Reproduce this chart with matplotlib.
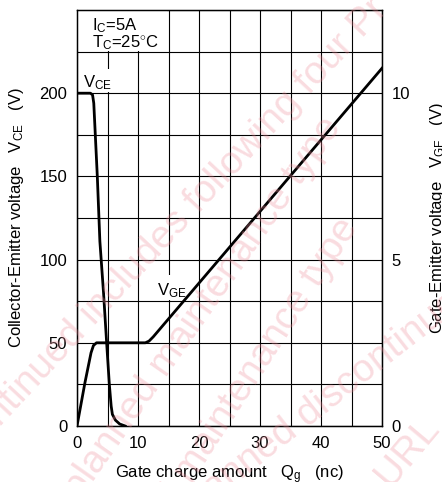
import matplotlib
matplotlib.use("Agg")
import matplotlib.pyplot as plt
from matplotlib.patches import Rectangle
import numpy as np

plt.rcParams['font.family'] = ['Liberation Sans', 'DejaVu Sans']
plt.rcParams['mathtext.fontset'] = 'custom'
plt.rcParams['mathtext.rm'] = 'Liberation Sans'
plt.rcParams['mathtext.it'] = 'Liberation Sans'

# ---- data ----
qg_vce = [0, 2.2, 2.55, 2.75, 3.33, 3.75, 4.35, 4.86, 5.3, 5.6, 5.8, 6.3, 7.0, 7.9]
vce = [200, 200, 199, 194, 150, 111, 80, 50, 25, 12, 7, 3.5, 1.2, 0]
qg_vge = [0, 1.3, 2.3, 2.7, 3.2, 11.2, 11.8, 12.5, 50]
vge = [0, 1.3, 2.2, 2.42, 2.5, 2.5, 2.55, 2.68, 10.75]
x_ticks = [0, 10, 20, 30, 40, 50]
y_ticks = [0, 50, 100, 150, 200]
y2_ticks = [0, 5, 10]

FS = 12
W, H = 442, 482
fig = plt.figure(figsize=(W / 100, H / 100), dpi=100)
ax = fig.add_axes([77 / W, (H - 426) / H, 305 / W, 416 / H])
ax.set_xlim(0, 50)
ax.set_ylim(0, 250)
ax.set_xticks(x_ticks)
ax.set_yticks(y_ticks)
ax.set_xticks(np.arange(0, 51, 5), minor=True)
ax.set_yticks(np.arange(0, 251, 25), minor=True)
ax.grid(True, which='both', color='black', lw=0.8)
ax.set_axisbelow(True)
ax.tick_params(which='both', length=0, labelsize=FS, pad=7, colors='black')
for s in ax.spines.values():
    s.set_linewidth(1.0)

ax.plot(qg_vce, vce, color='black', lw=2.0, solid_joinstyle='round', zorder=4)

ax2 = ax.twinx()
ax2.set_ylim(0, 12.5)
ax2.set_yticks(y2_ticks)
ax2.tick_params(length=0, labelsize=FS, pad=7)
ax2.plot(qg_vge, vge, color='black', lw=2.0, solid_joinstyle='round', zorder=4)

ax.set_xlabel(r'Gate charge amount   Q$_{\rm g}$   (nc)', fontsize=FS, labelpad=9)
ax.set_ylabel(r'Collector-Emitter voltage   V$_{\rm CE}$   (V)', fontsize=FS, labelpad=10)
ax2.set_ylabel(r'Gate-Emitter voltage   V$_{\rm GE}$   (V)', fontsize=FS, labelpad=13)

# white cells hiding grid behind annotations
ax.add_patch(Rectangle((0.15, 225.6), 14.6, 24.2, fc='white', ec='none', zorder=1.5))
ax.add_patch(Rectangle((4.6, 200.7), 0.8, 13.6, fc='white', ec='none', zorder=1.5))
ax.add_patch(Rectangle((14.6, 76.0), 0.8, 14.6, fc='white', ec='none', zorder=1.5))

ax.text(2.45, 238, r'I$_{\rm C}$=5A', fontsize=FS, va='baseline', ha='left', zorder=3)
ax.text(2.45, 227.8, r'T$_{\rm C}$=25$^{\circ}$C', fontsize=FS, va='baseline', ha='left', zorder=3)
ax.text(0.98, 203.3, r'V$_{\rm CE}$', fontsize=FS, va='baseline', ha='left', zorder=3)
ax.text(13.1, 78.7, r'V$_{\rm GE}$', fontsize=FS, va='baseline', ha='left', zorder=3)

# watermark
wkw = dict(color='#ee8c98', alpha=0.30, fontsize=28, ha='left', va='baseline',
           rotation_mode='anchor', zorder=10)
def wmark(x, y, s, rot):
    fig.text(x / W, 1 - y / H, s, rotation=rot, **wkw)

wmark(-62, 494, 'discontinued includes following four Pr', 47)
wmark(80, 500, 'planned maintenance type', 55)
wmark(110, 610, 'planned maintenance type', 57)
wmark(190, 520, 'planned discontinued', 38)
wmark(390, 488, 'URL', 50)

fig.savefig('out.png', dpi=100)
